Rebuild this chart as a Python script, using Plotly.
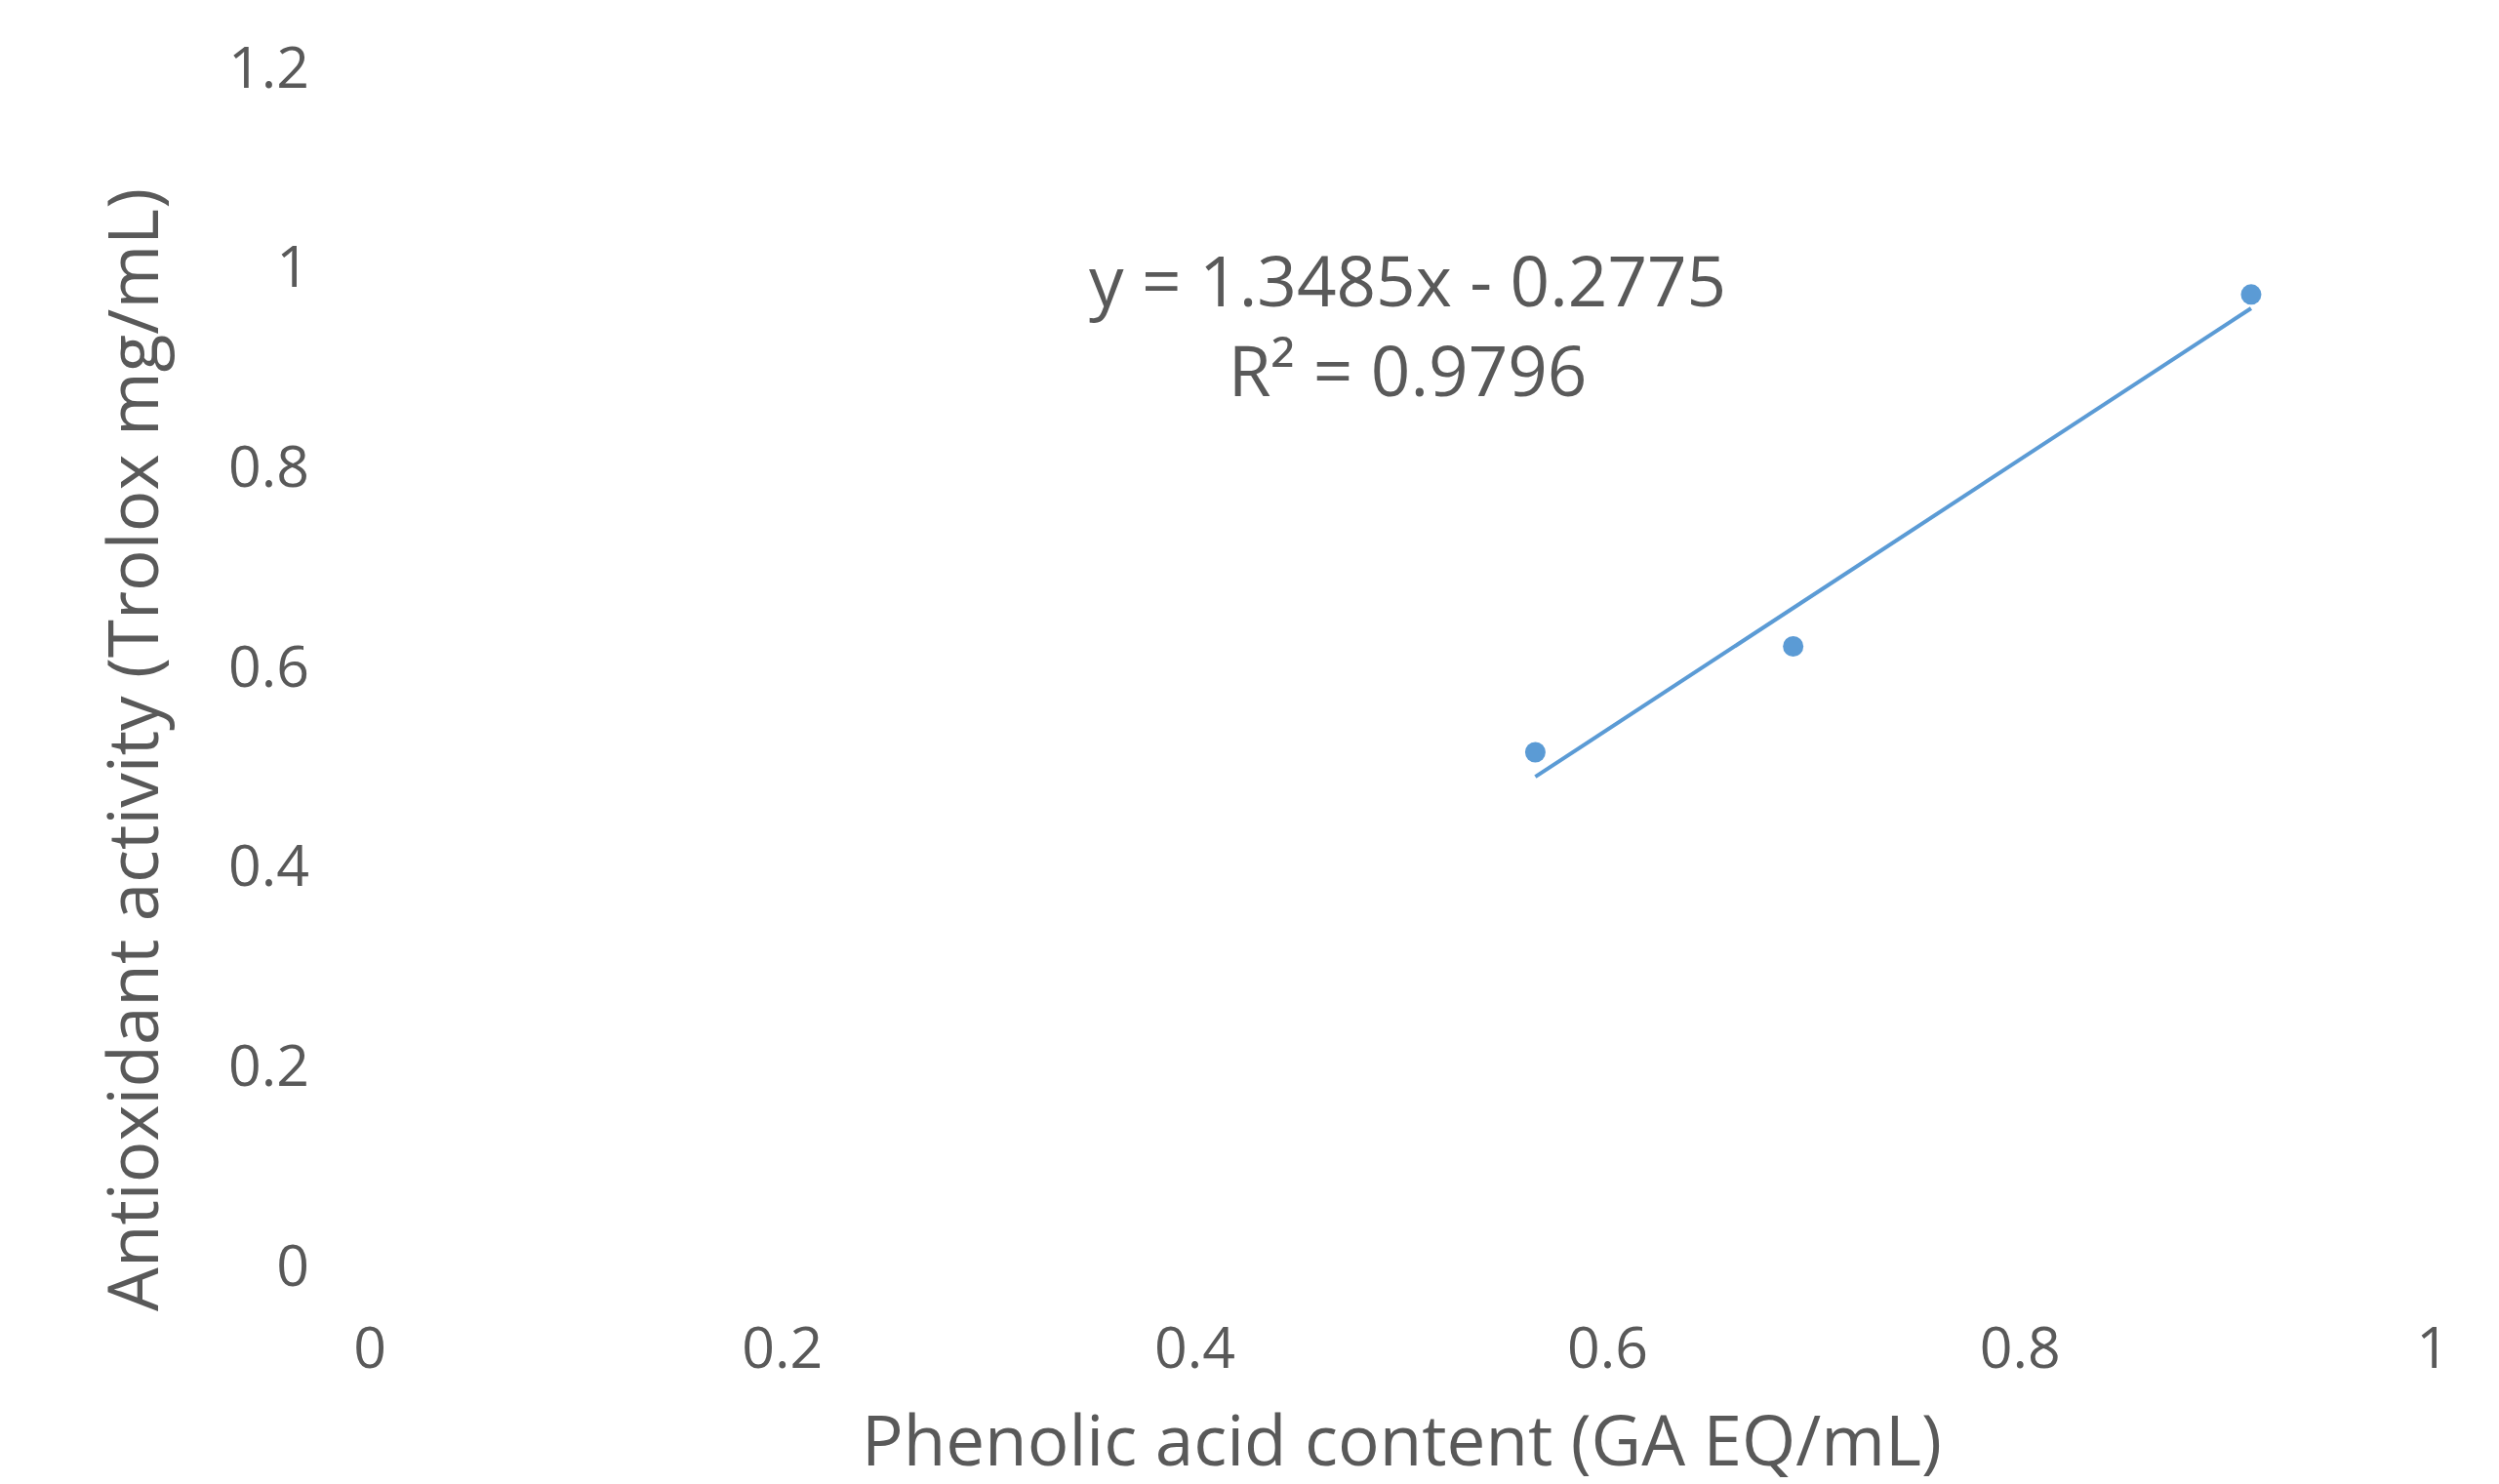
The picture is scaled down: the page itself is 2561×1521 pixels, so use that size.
import numpy as np
import plotly.graph_objects as go

# Data
phenolic = [0.565, 0.690, 0.912]          # GA EQ/mL
antioxidant = [0.514, 0.620, 0.9725]      # Trolox mg/mL

x_tick_vals = [0, 0.2, 0.4, 0.6, 0.8, 1.0]
x_tick_text = ["0", "0.2", "0.4", "0.6", "0.8", "1"]
y_tick_vals = [0, 0.2, 0.4, 0.6, 0.8, 1.0, 1.2]
y_tick_text = ["0", "0.2", "0.4", "0.6", "0.8", "1", "1.2"]

eq_text = "y = 1.3485x - 0.2775<br>R² = 0.9796"
x_title = "Phenolic acid content (GA EQ/mL)"
y_title = "Antioxidant activity (Trolox mg/mL)"

BLUE = "#5B9BD5"
GREY = "#595959"
FONT = "Open Sans"

# Linear trendline fitted to the points
slope, intercept = np.polyfit(phenolic, antioxidant, 1)
trend_x = [min(phenolic), max(phenolic)]
trend_y = [slope * v + intercept for v in trend_x]

fig = go.Figure()
fig.add_trace(go.Scatter(
    x=trend_x, y=trend_y, mode="lines",
    line=dict(color=BLUE, width=4), hoverinfo="skip", showlegend=False,
))
fig.add_trace(go.Scatter(
    x=phenolic, y=antioxidant, mode="markers",
    marker=dict(color=BLUE, size=21, line=dict(width=0)), showlegend=False,
))

# page body has an 8px margin: figure is shrunk by that so plot area lands where the reference has it
fig.update_layout(
    width=2553, height=1513,
    margin=dict(l=371, r=68, t=61, b=224),
    paper_bgcolor="white", plot_bgcolor="white",
    font=dict(family=FONT, color=GREY, size=59),
    xaxis=dict(
        range=[0, 1], tickvals=x_tick_vals, ticktext=x_tick_text,
        showgrid=False, zeroline=False, showline=False, ticks="",
        ticklabelstandoff=45, tickfont=dict(size=59, color=GREY, family=FONT),
    ),
    yaxis=dict(
        range=[0, 1.2], tickvals=y_tick_vals, ticktext=y_tick_text,
        showgrid=False, zeroline=False, showline=False, ticks="",
        ticklabelstandoff=61, tickfont=dict(size=59, color=GREY, family=FONT),
    ),
    annotations=[
        dict(text=eq_text, x=0.503, y=0.943, xref="x", yref="y",
             showarrow=False, xanchor="center", yanchor="middle", align="center",
             font=dict(size=71, color=GREY, family=FONT)),
        dict(text=x_title, x=0.5, y=-(1474 - 1297) / 1228, xref="paper", yref="paper",
             showarrow=False, xanchor="center", yanchor="middle",
             font=dict(size=71, color=GREY, family=FONT)),
        dict(text=y_title, x=-(379 - 134) / 2114, y=(1297 - 769) / 1228,
             xref="paper", yref="paper", textangle=-90,
             showarrow=False, xanchor="center", yanchor="middle",
             font=dict(size=71, color=GREY, family=FONT)),
    ],
)

fig.write_html("out.html")
